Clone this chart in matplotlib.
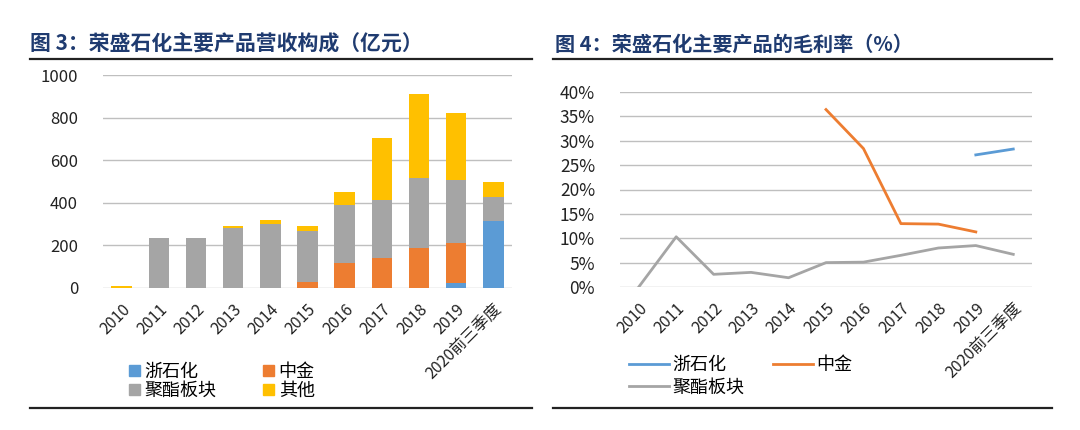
import numpy as np
import matplotlib
matplotlib.use("Agg")
import matplotlib.pyplot as plt
from matplotlib.lines import Line2D
from matplotlib.patches import Patch

plt.rcParams['font.family'] = ['Noto Sans CJK SC', 'DejaVu Sans']

years = ['2010', '2011', '2012', '2013', '2014', '2015', '2016', '2017',
         '2018', '2019', '2020前三季度']

# 营收构成 (亿元)
rev_zsh = [0, 0, 0, 0, 0, 0, 0, 0, 0, 25, 316]
rev_zj = [0, 0, 0, 0, 0, 28, 118, 143, 189, 184, 0]
rev_jz = [0, 236, 233, 283, 300, 240, 272, 271, 327, 296, 110]
rev_qt = [8, 0, 3, 10, 18, 22, 63, 288, 395, 318, 74]

# 毛利率 (%)
gm_zsh = [np.nan] * 9 + [27.1, 28.3]
gm_zj = [np.nan] * 5 + [36.4, 28.4, 13.0, 12.9, 11.3, np.nan]
gm_jz = [0.0, 10.3, 2.6, 3.0, 1.9, 5.0, 5.1, 6.5, 8.0, 8.5, 6.7]

C_BLUE = '#5B9BD5'
C_ORANGE = '#ED7D31'
C_GRAY = '#A5A5A5'
C_YELLOW = '#FFC000'
TITLE_C = '#1F3B70'
GRID_C = '#BFBFBF'

W, H = 1080, 430
fig = plt.figure(figsize=(W / 100, H / 100), dpi=100)


def box(x0, y_top, x1, y_bot):
    return [x0 / W, 1 - y_bot / H, (x1 - x0) / W, (y_bot - y_top) / H]


def frame_lines(x0, x1):
    for y in (59, 408):
        fig.add_artist(Line2D([x0 / W, x1 / W], [1 - y / H, 1 - y / H],
                              color='#222222', lw=1.6))


def style(ax, ysize):
    for s in ax.spines.values():
        s.set_visible(False)
    ax.yaxis.grid(True, color=GRID_C, lw=1.0)
    ax.set_axisbelow(True)
    ax.tick_params(axis='both', length=0, colors='#222222')
    ax.tick_params(axis='y', labelsize=ysize)
    ax.set_xticks(range(len(years)))
    ax.set_xticklabels(years, rotation=45, ha='right', va='top',
                       rotation_mode='anchor', fontsize=11.5)
    ax.set_xlim(-0.5, len(years) - 0.5)


# ---- left: stacked bars
ax1 = fig.add_axes(box(103, 75, 512, 288))
x = np.arange(len(years))
bw = 0.55
b = np.zeros(len(years))
for vals, c in [(rev_zsh, C_BLUE), (rev_zj, C_ORANGE), (rev_jz, C_GRAY), (rev_qt, C_YELLOW)]:
    ax1.bar(x, vals, bw, bottom=b, color=c, zorder=3)
    b = b + np.array(vals)
ax1.set_ylim(0, 1000)
ax1.set_yticks([0, 200, 400, 600, 800, 1000])
style(ax1, 12)
ax1.tick_params(axis='y', pad=18)
ax1.tick_params(axis='x', pad=9)

fig.text(30 / W, 1 - 44 / H, '图 3：荣盛石化主要产品营收构成（亿元）', fontsize=15,
         fontweight='bold', color=TITLE_C, va='center', ha='left')
frame_lines(30, 532)

h1 = [Patch(color=C_BLUE), Patch(color=C_GRAY), Patch(color=C_ORANGE), Patch(color=C_YELLOW)]
l1 = ['浙石化', '聚酯板块', '中金', '其他']
fig.legend(h1, l1, ncol=2, loc='upper left', bbox_to_anchor=(120 / W, 1 - 354 / H),
           frameon=False, fontsize=13, handlelength=0.6, handleheight=0.6,
           handletextpad=0.25, columnspacing=2.6, labelspacing=0.05, borderpad=0)

# ---- right: margin lines
ax2 = fig.add_axes(box(620, 92, 1032, 287))
ax2.plot(x, gm_zsh, color=C_BLUE, lw=2)
ax2.plot(x, gm_zj, color=C_ORANGE, lw=2)
ax2.plot(x, gm_jz, color=C_GRAY, lw=2)
ax2.set_ylim(0, 40)
ax2.set_yticks(range(0, 41, 5))
ax2.set_yticklabels([f'{v}%' for v in range(0, 41, 5)])
style(ax2, 12.5)
ax2.tick_params(axis='y', pad=18)
ax2.tick_params(axis='x', pad=9)

fig.text(555 / W, 1 - 44 / H, '图 4：荣盛石化主要产品的毛利率（%）', fontsize=14.5,
         fontweight='bold', color=TITLE_C, va='center', ha='left')
frame_lines(553, 1052)

h2 = [Line2D([], [], color=C_BLUE, lw=2), Line2D([], [], color=C_GRAY, lw=2),
      Line2D([], [], color=C_ORANGE, lw=2)]
l2 = ['浙石化', '聚酯板块', '中金']
fig.legend(h2, l2, ncol=2, loc='upper left', bbox_to_anchor=(620 / W, 1 - 347 / H),
           frameon=False, fontsize=13, handlelength=2.2, handletextpad=0.2,
           columnspacing=1.6, labelspacing=0.25, borderpad=0)

fig.savefig('out.png', dpi=100, facecolor='white')
